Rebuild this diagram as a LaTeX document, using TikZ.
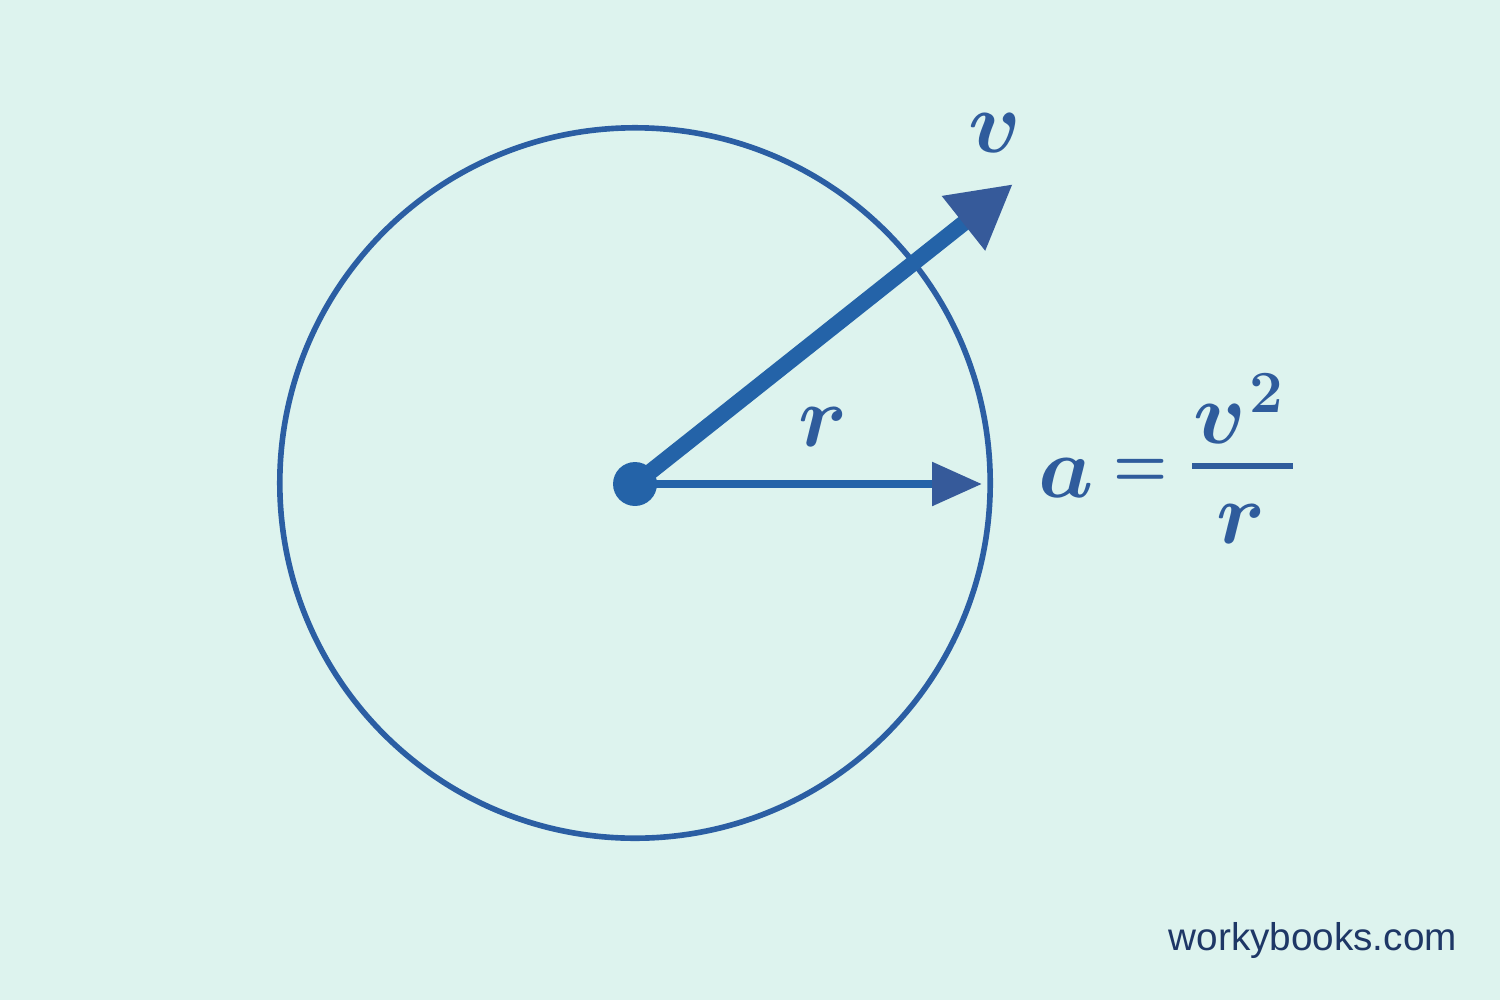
\documentclass[tikz,border=0pt]{standalone}
\usepackage{fontspec}
\usepackage{amsmath}
\usetikzlibrary{arrows.meta}
\newfontfamily\wbfont{Liberation Sans}
\definecolor{bgc}{HTML}{DDF3EE}
\definecolor{circc}{HTML}{2B5EA3}
\definecolor{shaftc}{HTML}{2463A8}
\definecolor{headc}{HTML}{365A9A}
\definecolor{mathc}{HTML}{2F5C9C}
\definecolor{wbc}{HTML}{1E3766}
\tikzset{
  mlabel/.style={inner sep=0pt, anchor=base, text=mathc, font=\fontsize{28}{30}\selectfont\boldmath},
  thickarrow/.style={draw=shaftc, line width=4.55pt, -{Triangle[length=18pt,width=18.5pt,color=headc]}},
  thinarrow/.style={draw=shaftc, line width=2.3pt, -{Triangle[length=14.2pt,width=12pt,color=headc]}},
}
\begin{document}
\begin{tikzpicture}[x=0.01cm,y=-0.01cm]
\fill[bgc] (0,0) rectangle (1500,1000);
\useasboundingbox (0,0) rectangle (1500,1000);
% circle
\coordinate (c) at (635,484);
\draw[circc, line width=1.6pt] (635,483) circle[radius=3.55cm];
% arrow ends
\coordinate (vtip) at (1013,184);
\coordinate (rtip) at (982,484);
\draw[thickarrow] (c) -- (vtip);
\draw[thinarrow] (c) -- (rtip);
\node[circle, fill=shaftc, minimum size=12.5pt, inner sep=0pt] (dot) at (c) {};
% labels
\node[mlabel] (vlab) at (995,152) {$v$};
\node[mlabel] (rlab) at (823,446) {$r$};
% formula
\node[mlabel] (fa) at (1066,497) {$a$};
\node[inner sep=0pt, anchor=center, text=mathc, font=\fontsize{20}{22}\selectfont\boldmath] (feq) at (1141,473) {\scalebox{0.85}[1]{$=$}};
\draw[mathc, line width=1.7pt] (1192,466) coordinate (fl) -- (1293,466) coordinate (fr);
\node[mlabel] (fv) at (1220,443) {$v$};
\node[inner sep=0pt, anchor=base, text=mathc, font=\fontsize{17}{19}\selectfont\bfseries] (ftwo) at (1266,412) {2};
\node[mlabel] (fr2) at (1241,543) {$r$};
% watermark
\node[inner sep=0pt, anchor=base west, text=wbc, font=\wbfont\fontsize{11}{13}\selectfont] (wb) at (1168,950) {workybooks.com};
\end{tikzpicture}
\end{document}
